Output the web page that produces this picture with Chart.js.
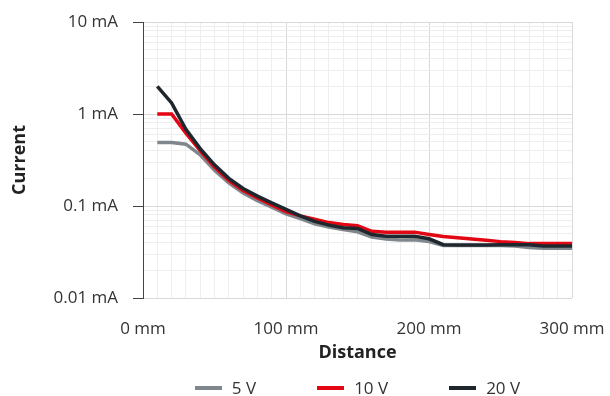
<!DOCTYPE html>
<html>
<head>
<meta charset="utf-8">
<script src="https://cdn.jsdelivr.net/npm/chart.js@4/dist/chart.umd.min.js"></script>
<style>
html, body { margin: 0; padding: 0; background: #fff; }
#wrap { position: relative; width: 610px; height: 396px; }
#legend { position: absolute; top: 378px; height: 20px; display: flex; justify-content: center; align-items: center;
  font-family: 'Open Sans', sans-serif; font-size: 17px; color: #333; line-height: 20px; }
.item { display: flex; align-items: center; white-space: nowrap; }
.item .sw { width: 27px; height: 4px; margin-right: 10px; }
</style>
</head>
<body>
<div id="wrap"><canvas id="c" width="610" height="396"></canvas><div id="legend"></div></div>
<script>
// ---- data ----
const distances = [10,20,30,40,50,60,70,80,90,100,110,120,130,140,150,160,170,180,190,200,210,220,230,240,250,260,270,280,290,300];
const current5V  = [0.49,0.49,0.47,0.36,0.245,0.178,0.138,0.114,0.097,0.082,0.073,0.064,0.059,0.0555,0.0525,0.046,0.0438,0.0427,0.043,0.041,0.0372,0.0372,0.0372,0.0372,0.0372,0.0367,0.0354,0.0347,0.0347,0.0347];
const current10V = [1.0,1.0,0.62,0.40,0.265,0.19,0.147,0.122,0.103,0.087,0.078,0.072,0.066,0.063,0.061,0.053,0.052,0.052,0.052,0.049,0.0465,0.0452,0.0438,0.0424,0.041,0.040,0.039,0.039,0.039,0.039];
const current20V = [2.0,1.32,0.68,0.42,0.28,0.20,0.155,0.128,0.108,0.092,0.078,0.068,0.062,0.058,0.057,0.049,0.047,0.047,0.047,0.044,0.038,0.0377,0.0377,0.0377,0.038,0.038,0.038,0.0367,0.0367,0.0367];
const seriesLabels = ['5 V', '10 V', '20 V'];
const xTickValues = [0, 100, 200, 300];
const xTickLabels = ['0 mm', '100 mm', '200 mm', '300 mm'];
const yTickValues = [0.01, 0.1, 1, 10];
const yTickLabels = ['0.01 mA', '0.1 mA', '1 mA', '10 mA'];
const xTitle = 'Distance';
const yTitle = 'Current';

// ---- styles ----
const colors = ['#80878c', '#e30613', '#1f272e'];
const FONT = "'Open Sans', sans-serif";
const MAJOR_GRID = '#d9d9d9';
const MINOR_GRID = '#eeeeee';

function pts(arr) { return distances.map((d, i) => ({ x: d, y: arr[i] })); }
function isDecade(v) { return yTickValues.some(t => Math.abs(t - v) / t < 1e-6); }

const seriesData = [current5V, current10V, current20V];
const datasets = seriesData.map((s, i) => ({
  label: seriesLabels[i],
  data: pts(s),
  borderColor: colors[i],
  backgroundColor: colors[i],
  borderWidth: 3.5,
  pointRadius: 0,
  tension: 0,
  fill: false,
  order: 2 - i
}));

const chart = new Chart(document.getElementById('c'), {
  type: 'line',
  data: { datasets },
  options: {
    responsive: false,
    animation: false,
    devicePixelRatio: 1,
    layout: { padding: { left: 0, right: 38, top: 22, bottom: 32 } },
    plugins: { legend: { display: false }, tooltip: { enabled: false } },
    scales: {
      x: {
        type: 'linear', min: 0, max: 300,
        afterBuildTicks: (s) => {
          const t = [];
          for (let v = 0; v <= 300; v += 10) t.push({ value: v });
          s.ticks = t;
        },
        afterFit: (s) => { s.height = 66; s.paddingLeft = 0; s.paddingRight = 0; },
        grid: {
          color: (c) => (c.tick && c.tick.value % 100 === 0) ? MAJOR_GRID : MINOR_GRID,
          lineWidth: 1,
          drawTicks: false
        },
        border: { display: false },
        ticks: {
          autoSkip: false, maxRotation: 0, padding: 21,
          color: '#333', font: { family: FONT, size: 17 },
          callback: (v) => { const i = xTickValues.indexOf(v); return i >= 0 ? xTickLabels[i] : ''; }
        },
        title: { display: true, text: xTitle, color: '#222', font: { family: FONT, size: 18, weight: 'bold' }, padding: { top: 0, bottom: 0 } }
      },
      y: {
        type: 'logarithmic', min: 0.01, max: 10,
        afterBuildTicks: (s) => {
          const t = [];
          for (let d = 0; d < yTickValues.length; d++) {
            const base = yTickValues[d];
            const lim = d === yTickValues.length - 1 ? 1 : 9;
            for (let k = 1; k <= lim; k++) t.push({ value: parseFloat((base * k).toPrecision(6)), major: k === 1 });
          }
          s.ticks = t;
        },
        afterFit: (s) => { s.width = 143; s.paddingTop = 0; s.paddingBottom = 0; },
        grid: {
          color: (c) => (c.tick && isDecade(c.tick.value)) ? MAJOR_GRID : MINOR_GRID,
          tickColor: (c) => (c.tick && isDecade(c.tick.value)) ? '#444' : 'rgba(0,0,0,0)',
          tickLength: 10,
          lineWidth: 1
        },
        border: { display: true, color: '#444', width: 1 },
        ticks: {
          autoSkip: false, padding: 15,
          color: '#333', font: { family: FONT, size: 17 },
          callback: (v) => { const i = yTickValues.findIndex(t => Math.abs(t - v) / t < 1e-6); return i >= 0 ? yTickLabels[i] : ''; }
        },
        title: { display: true, text: yTitle, color: '#222', font: { family: FONT, size: 18, weight: 'bold' }, padding: { top: 9, bottom: 0 } }
      }
    }
  }
});

// ---- legend (built from the chart's datasets) ----
const lg = document.getElementById('legend');
const ca = chart.chartArea;
lg.style.left = ca.left + 'px';
lg.style.width = (ca.right - ca.left) + 'px';
chart.data.datasets.forEach((ds, i) => {
  const it = document.createElement('div');
  it.className = 'item';
  if (i < chart.data.datasets.length - 1) it.style.marginRight = '61px';
  const sw = document.createElement('span');
  sw.className = 'sw';
  sw.style.background = ds.borderColor;
  const tx = document.createElement('span');
  tx.textContent = ds.label;
  it.appendChild(sw); it.appendChild(tx);
  lg.appendChild(it);
});
</script>
</body>
</html>
